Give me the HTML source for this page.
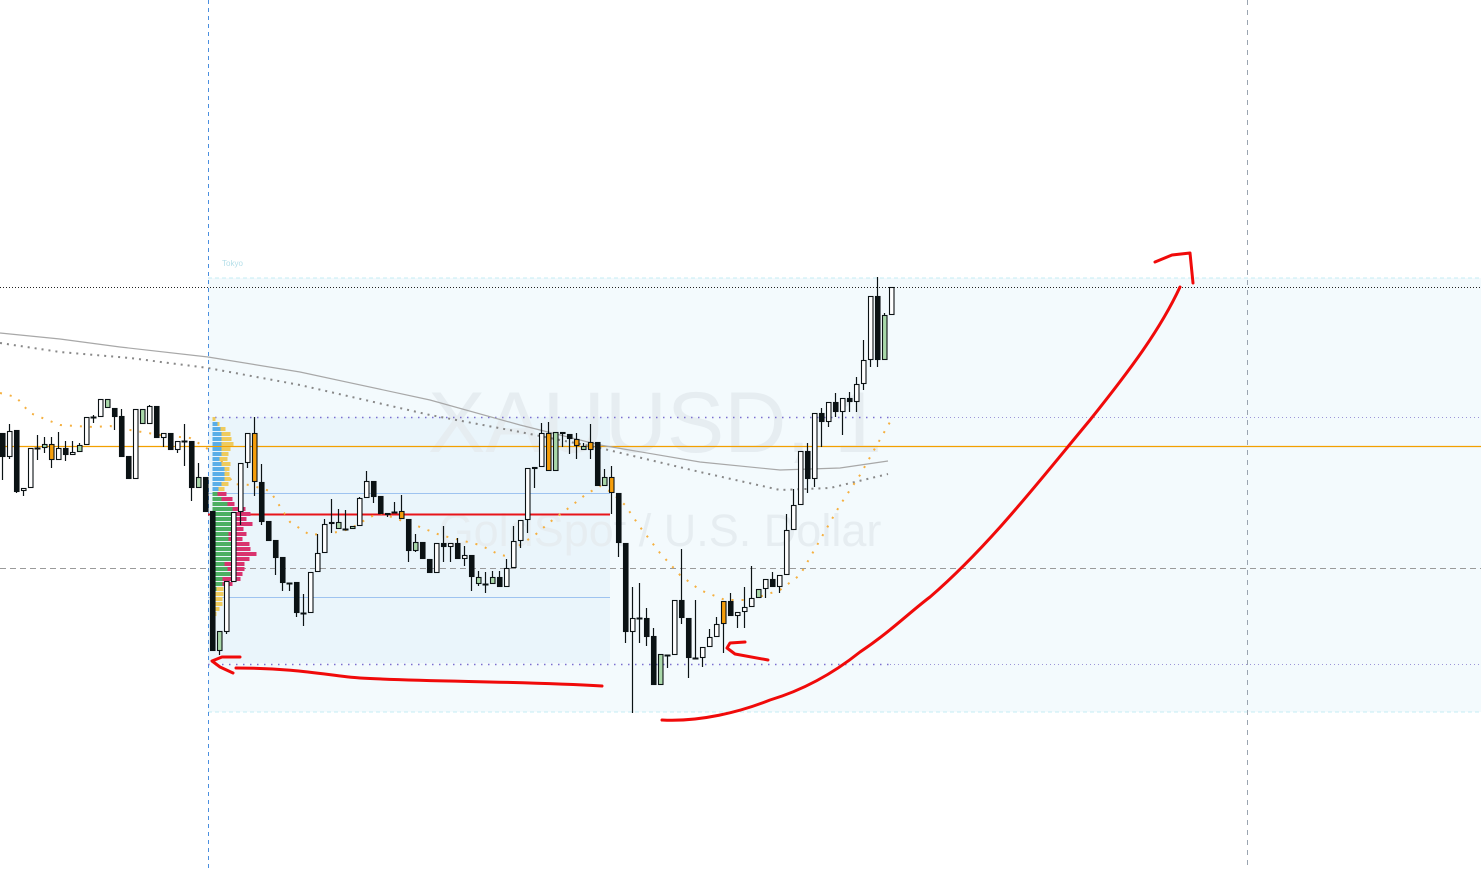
<!DOCTYPE html>
<html><head><meta charset="utf-8">
<style>
html,body{margin:0;padding:0;background:#fff;overflow:hidden}
svg{display:block;font-family:"Liberation Sans",sans-serif}
</style></head>
<body>
<svg id="chart" width="1481" height="870" viewBox="0 0 1481 870" xmlns="http://www.w3.org/2000/svg">
  <rect x="208" y="278" width="1273" height="434" fill="#f3fafd"/>
  <line x1="208" y1="278" x2="1481" y2="278" stroke="#c6ecf4" stroke-dasharray="4,3"/>
  <line x1="208" y1="712" x2="1481" y2="712" stroke="#c6ecf4" stroke-dasharray="4,3"/>
  <rect x="208" y="417" width="402" height="246" fill="#eaf5fb"/>
  <text x="222" y="266" font-size="8" fill="#b5dfe9">Tokyo</text>
  <text x="655" y="452" font-size="86" fill="#e6edf1" text-anchor="middle">XAUUSD, 1</text>
  <text x="660" y="546" font-size="45" fill="#e6edf1" text-anchor="middle">GoldSpot / U.S. Dollar</text>
  <g id="lines"></g>
  <g id="vp"></g>
  <g id="candles"></g>
  <g id="draw"></g>
</svg>
<script>
const tops=[433,431,430,488,448,448,444,444,448,448,452,445,417,417,399,399,408,416,456,409,409,406,406,433,433,441,441,441,477,477,511,631,581,512,463,433,433,482,521,540,557,583,582,613,572,553,524,522,522,529,526,498,481,481,496,513,512,511,519,542,542,559,543,543,543,543,555,555,577,584,577,577,568,541,520,468,467,433,433,432,432,434,439,446,442,442,477,477,493,543,618,618,618,636,654,655,600,600,618,658,647,637,624,601,601,612,607,598,589,579,579,575,530,505,451,451,413,413,402,402,398,398,384,360,296,296,315,287];
const bots=[457,457,492,491,488,448,448,460,460,455,455,452,445,417,417,408,417,457,479,479,424,424,438,438,450,450,441,488,488,512,651,651,632,582,512,463,482,522,541,558,583,583,613,613,613,572,553,524,529,529,529,526,498,497,514,514,512,519,551,551,559,573,573,547,547,559,559,577,584,584,584,587,587,568,541,520,468,467,471,471,434,439,446,450,450,486,486,493,543,632,632,618,637,685,685,655,655,618,658,658,658,647,637,624,616,616,612,607,598,589,587,587,575,530,505,479,479,422,422,412,412,402,402,384,360,360,360,315];
const highs=[433,424,430,488,448,435,437,437,432,441,441,443,417,415,399,399,408,409,456,409,409,405,406,433,433,441,424,441,463,477,511,631,581,512,463,433,417,464,521,540,557,583,582,594,572,534,519,499,509,510,526,497,471,481,496,513,502,495,519,534,542,559,543,526,543,538,546,555,571,572,571,571,559,526,520,468,467,423,422,432,432,434,433,443,424,442,469,466,493,543,587,583,608,628,654,655,600,549,618,600,647,629,617,601,593,612,587,566,589,579,572,575,514,489,451,443,413,408,402,393,398,392,377,340,296,277,313,287];
const lows=[480,459,493,496,488,460,453,468,460,461,455,452,445,423,417,408,430,457,479,479,424,424,438,447,450,453,466,501,488,512,651,655,634,582,525,468,496,525,541,575,591,591,617,626,613,572,553,533,529,529,529,526,498,503,514,517,512,519,562,552,559,573,573,562,562,559,566,591,586,593,584,587,587,568,548,533,488,467,471,471,447,454,459,450,459,486,486,514,557,643,713,643,646,685,685,668,655,624,678,658,667,647,637,653,616,628,628,607,598,598,587,593,575,530,505,493,487,447,427,417,435,412,412,390,367,367,360,315];
const kinds=['d','u','d','u','u','x','g','o','u','d','u','g','u','x','u','g','d','d','d','u','g','u','d','u','d','u','x','d','g','d','d','g','u','u','u','u','o','d','d','d','d','x','d','x','u','u','u','u','g','x','g','u','u','d','d','u','x','o','d','g','d','d','u','d','u','d','u','d','g','x','g','d','u','u','u','u','u','u','o','g','u','d','o','g','o','d','g','o','d','d','u','x','d','d','g','x','u','d','d','x','u','u','u','o','d','u','u','u','g','u','d','u','u','u','u','d','u','d','u','d','u','d','u','u','u','d','g','u'];
const vpY=[419,424,429,434,439,444,449,454,459,464,469,474,479,484,489,494,499,504,509,514,519,524,529,534,539,544,549,554,559,564,569,574,579,584,589,594,599,604,609,614];
const vpA=[0,5,8,9,9,9,9,9,7,9,12,12,12,9,6,5,9,15,20,24,24,24,20,16,16,24,24,24,24,12,15,18,10,10,4,3,2,2,1,0];
const vpB=[3,2,5,9,10,12,9,7,8,9,5,5,6,7,6,9,11,7,13,14,10,16,11,18,14,13,14,20,13,20,17,12,18,10,7,8,8,8,6,4];
const vpKind=[0,0,0,0,0,0,0,0,0,0,0,0,0,0,0,1,1,1,1,1,1,1,1,1,1,1,1,1,1,1,1,1,1,1,2,2,2,2,2,2];
const maSolidX=[0,60,120,208,300,430,520,600,700,780,840,888];
const maSolidV=[333,339,347,357,372,400,425,445,462,470,468,461];
const maDotX=[0,60,130,208,300,430,520,600,700,780,830,888];
const maDotV=[343,352,358,368,385,415,432,448,472,490,488,474];
const emaX=[0,16,30,60,93,110,130,160,190,205,220,233,250,270,290,310,338,350,370,380,400,420,440,460,480,500,507,520,535,550,570,585,600,611,625,640,660,680,700,725,750,780,800,820,840,860,878,890];
const emaV=[393,397,413,425,427,426,430,435,438,447,458,484,485,491,522,535,532,529,517,513,520,527,535,540,545,555,556,545,535,522,507,495,486,492,505,527,553,575,590,600,600,590,575,540,505,475,443,422];

const NS="http://www.w3.org/2000/svg";
const X0=2,STEP=7;
function xs(i){return X0+i*STEP;}
function ys(v){return 0+(v-0)*1;}
function mk(tag,attrs,parent){const e=document.createElementNS(NS,tag);for(const k in attrs)e.setAttribute(k,attrs[k]);parent.appendChild(e);return e;}

const L=document.getElementById('lines');
function hline(y,x1,x2,stroke,dash,name,w){
  const e=mk('line',{x1:x1,y1:y,x2:x2,y2:y,stroke:stroke,'stroke-width':w||1,'stroke-dasharray':dash||'none'},L);
  
  
}
function vline(x,stroke,dash,name){
  const e=mk('line',{x1:x,y1:0,x2:x,y2:870,stroke:stroke,'stroke-dasharray':dash},L);
  
  
}
vline(208.5,'#4a8fe0','4,4','session-start-line');
vline(1247.5,'#9aa4b0','5,5','session-end-line');
hline(287.5,0,1481,'#222','1,2','high-dotted-line');
hline(417.5,208,890,'#7b6fd0','1.5,5.5','upper-purple-level',1.6);
hline(664.5,208,890,'#7b6fd0','1.5,5.5','lower-purple-level',1.6);
hline(417.5,890,1481,'#9c95d8','1,3','upper-purple-level-extension');
hline(664.5,890,1481,'#9c95d8','1,3','lower-purple-level-extension');
hline(446.5,0,1481,'#f2a000','','orange-level',1.3);
hline(568.5,0,1481,'#9a9a9a','6,4','dashed-gray-level');
hline(493.5,208,610,'#9ec3f0','','value-area-high');
hline(597.5,208,610,'#9ec3f0','','value-area-low');
hline(514.5,208,610,'#e8141a','','poc-red-line',2);

function polyPts(xa,va){return xa.map((x,i)=>x+','+ys(va[i])).join(' ');}
const ma1=mk('polyline',{points:polyPts(maSolidX,maSolidV),fill:'none',stroke:'#a8a8a8','stroke-width':1.2},L);


const ma2=mk('polyline',{points:polyPts(maDotX,maDotV),fill:'none',stroke:'#888','stroke-width':2,'stroke-dasharray':'2,5'},L);


const ema=mk('polyline',{points:polyPts(emaX,emaV),fill:'none',stroke:'#f5b040','stroke-width':2,'stroke-dasharray':'2,8'},L);



const VP=document.getElementById('vp');
const vpCols=[['#5aaee8','#efcb5d'],['#4caf62','#d9336e'],['#4caf62','#efcb5d']];
vpY.forEach((y,i)=>{
  const c=vpCols[vpKind[i]];
  if(vpA[i]>0){const r=mk('rect',{x:212.5,y:y-2,width:vpA[i],height:4,fill:c[0]},VP);
    
    }
  const r2=mk('rect',{x:212.5+vpA[i],y:y-2,width:vpB[i],height:4,fill:c[1]},VP);
  
  
});

const C=document.getElementById('candles');
const fills={u:'#ffffff',d:'#0b1214',g:'#a9d8a9',o:'#f59e0b',x:'#0b1214'};
tops.forEach((t,i)=>{
  const x=xs(i),k=kinds[i];
  const g=mk('g',{},C);
  
  
  mk('line',{x1:x+0.5,y1:ys(highs[i]),x2:x+0.5,y2:ys(lows[i]),stroke:'#0b1214','stroke-width':1.2},g);
  const h=Math.max(ys(bots[i])-ys(t),1);
  if(k==='x'){mk('rect',{x:x-2.5,y:ys(t)-0.5,width:6,height:2,fill:'#0b1214'},g);}
  else mk('rect',{x:x-1.5,y:ys(t)+0.5,width:4.5,height:Math.max(h-1,1),fill:fills[k],stroke:'#0b1214','stroke-width':1.1},g);
});

const D=document.getElementById('draw');
const strokes=[
 ['M240,657 L222,657 L212,661 L220,667 L233,673','arrow-left-mark'],
 ['M236,668 C300,668 330,676 360,678 C430,682 520,681 602,686','range-underline-mark'],
 ['M745,642 L730,643 L727,648 L735,654 L768,660','arrow-low-mark'],
 ['M662,720 C700,722 740,712 770,700 C810,688 840,668 860,652 C890,632 910,612 930,597 C990,545 1040,480 1090,420 C1130,370 1160,330 1180,287','projected-move-curve'],
 ['M1155,262 L1172,255 L1190,253 L1193,283','projected-arrow-head']
];
strokes.forEach(s=>{
  const p=mk('path',{d:s[0],fill:'none',stroke:'#f00a0a','stroke-width':3,'stroke-linecap':'round','stroke-linejoin':'round'},D);
  
  
});
</script>
</body></html>
